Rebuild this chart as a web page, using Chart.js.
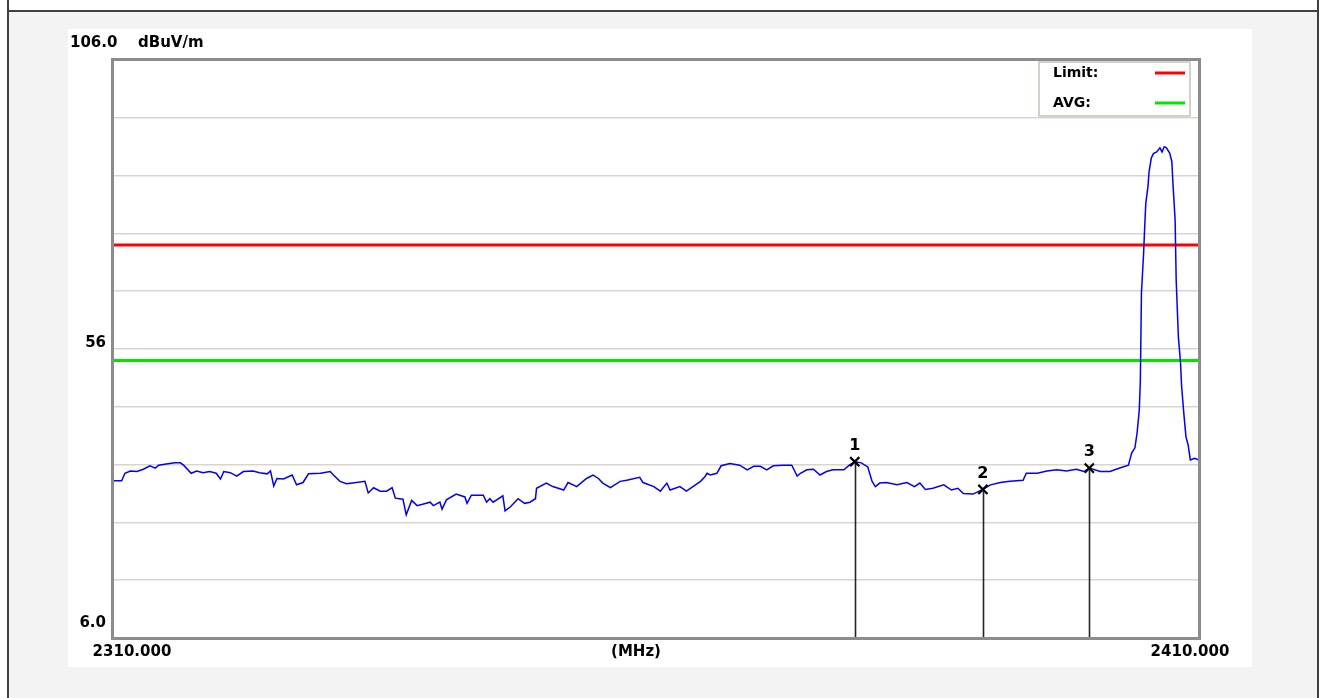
<!DOCTYPE html>
<html><head><meta charset="utf-8">
<script src="https://cdn.jsdelivr.net/npm/chart.js@4.4.1/dist/chart.umd.min.js"></script>
<style>
html,body{margin:0;padding:0;background:#fff;width:1322px;height:698px;overflow:hidden;}
#frame{position:absolute;left:7px;top:0px;width:1308px;height:698px;border-left:2px solid #404040;border-right:2px solid #404040;background:#fff;}
#fill{position:absolute;left:9px;top:10px;width:1308px;height:688px;border-top:2px solid #404040;background:#f3f3f3;}
#panel{position:absolute;left:68px;top:29px;width:1184px;height:638px;background:#fff;}
canvas{position:absolute;left:0;top:0;}
</style></head>
<body>
<div id="frame"></div><div id="fill"></div><div id="panel"></div>
<canvas id="c" width="1322" height="698"></canvas>
<script>
// ---- data ----
const freqMHz = [
2310.0,2310.8,2311.1,2311.6,2312.2,2312.8,2313.4,2313.9,2314.2,2314.9,2315.7,2316.2,2316.5,2317.2,2317.7,2318.3,2318.9,2319.5,2319.9,2320.2,
2320.8,2321.4,2322.0,2322.9,2323.5,2324.2,2324.5,2324.8,2325.1,2325.7,2326.5,2326.9,2327.5,2328.0,2329.1,2330.0,2330.3,2330.9,2331.5,2332.4,
2333.2,2333.5,2334.0,2334.6,2335.2,2335.7,2336.0,2336.7,2337.0,2337.5,2338.0,2338.6,2339.2,2339.5,2340.1,2340.3,2340.7,2341.6,2342.4,2342.6,
2343.0,2344.1,2344.4,2344.7,2345.0,2345.9,2346.1,2346.6,2347.3,2347.9,2348.4,2348.9,2349.0,2349.9,2350.5,2351.5,2351.9,2352.7,2353.6,2354.2,
2354.7,2355.1,2355.8,2356.7,2357.3,2358.5,2358.8,2359.8,2360.4,2361.0,2361.3,2362.2,2362.8,2363.4,2364.1,2364.5,2364.7,2365.0,2365.6,2366.0,
2366.8,2367.7,2368.4,2369.0,2369.6,2370.2,2370.8,2371.7,2372.5,2373.0,2373.3,2373.9,2374.5,2375.1,2375.7,2376.3,2377.3,2377.8,2378.3,2378.9,
2379.5,2379.9,2380.2,2380.6,2381.2,2382.2,2383.1,2383.8,2384.3,2384.8,2385.5,2386.5,2387.2,2387.8,2388.3,2389.2,2390.1,2390.8,2391.7,2392.6,
2393.8,2394.1,2395.1,2396.0,2396.9,2397.8,2398.7,2399.4,2399.9,2400.9,2401.8,2402.7,2403.5,2403.8,2404.1,2404.3,2404.5,2404.6,2404.7,2404.9,
2405.0,2405.1,2405.3,2405.4,2405.6,2405.8,2406.1,2406.4,2406.6,2406.8,2407.0,2407.3,2407.5,2407.6,2407.8,2407.9,2408.1,2408.3,2408.4,2408.6,
2408.8,2409.0,2409.2,2409.6,2410.0
];
const levelDb = [
33.2,33.2,34.5,34.9,34.8,35.2,35.8,35.4,35.9,36.1,36.3,36.3,35.9,34.5,34.9,34.6,34.8,34.5,33.5,34.8,
34.6,34.0,34.8,34.9,34.6,34.4,34.9,32.3,33.6,33.5,34.2,32.5,32.9,34.4,34.5,34.8,34.2,33.1,32.7,32.9,
33.1,31.1,32.0,31.4,31.4,32.0,30.2,30.0,27.3,29.8,28.9,29.2,29.5,28.9,29.5,28.3,29.9,30.9,30.4,29.3,
30.7,30.7,29.5,30.1,29.5,30.6,28.0,28.7,30.1,29.3,29.5,30.1,31.9,32.8,32.2,31.6,32.9,32.2,33.6,34.2,
33.6,32.8,32.0,33.1,33.3,33.8,32.9,32.2,31.4,32.8,31.6,32.2,31.4,32.2,33.1,33.9,34.5,34.2,34.5,35.8,
36.2,35.9,35.1,35.7,35.7,35.1,35.8,35.9,35.9,34.0,34.5,35.1,35.2,34.2,34.8,35.1,35.1,35.9,36.5,36.3,
35.6,33.1,32.2,32.8,32.9,32.5,32.9,32.2,32.8,31.7,31.9,32.5,31.6,31.9,31.0,30.9,31.7,32.5,32.9,33.1,
33.3,34.5,34.5,34.9,35.1,34.9,35.2,34.8,35.4,34.8,34.8,35.4,35.9,38.0,38.9,41.5,45.4,50.6,65.7,72.6,
77.1,81.2,84.1,86.6,89.0,89.8,90.1,90.8,90.1,91.0,90.8,89.9,88.4,84.7,78.3,67.9,58.1,53.6,49.5,44.9,
40.8,39.4,36.8,37.1,36.8
];
const limitLevel = 74;
const avgLevel = 54;
const xMin = 2310, xMax = 2410;
const yMin = 6, yMax = 106, yStep = 10;
const markerFreqs = [2378.3, 2390.1, 2399.9];
const markerLevels = [36.5, 31.7, 35.4];
const markerLabels = ['1', '2', '3'];
const yLabelValues = [106, 56, 6];
const yLabelTexts = ['106.0', '56', '6.0'];
const xLabelTexts = ['2310.000', '(MHz)', '2410.000'];
const yUnit = 'dBuV/m';
const legendNames = ['Limit:', 'AVG:'];
const legendColors = ['#ff0000', '#00e600'];

// ---- chart ----
const FONT = 'bold 15px "DejaVu Sans"';
const LEGEND_FONT = 'bold 14px "DejaVu Sans"';
const MARKER_FONT = 'bold 16px "DejaVu Sans"';
const overlay = {
  id: 'overlay',
  beforeDatasetsDraw(chart) {
    const {ctx, chartArea: a, scales: {x, y}} = chart;
    ctx.save();
    ctx.strokeStyle = '#262626';
    ctx.lineWidth = 1.6;
    markerFreqs.forEach((f, i) => {
      const px = Math.round(x.getPixelForValue(f)) + 0.5;
      ctx.beginPath();
      ctx.moveTo(px, y.getPixelForValue(markerLevels[i]));
      ctx.lineTo(px, a.bottom);
      ctx.stroke();
    });
    ctx.restore();
  },
  afterDatasetsDraw(chart) {
    const {ctx, chartArea: a, scales: {x, y}} = chart;
    ctx.save();
    ctx.fillStyle = '#000';
    ctx.textBaseline = 'middle';
    // marker labels
    ctx.font = MARKER_FONT;
    ctx.textAlign = 'center';
    markerFreqs.forEach((f, i) => {
      ctx.fillText(markerLabels[i], x.getPixelForValue(f), y.getPixelForValue(markerLevels[i]) - 16);
    });
    ctx.font = FONT;
    // y labels
    const yOff = [-17, -6, -15];
    yLabelValues.forEach((v, i) => {
      const py = y.getPixelForValue(v) + yOff[i];
      if (i === 0) { ctx.textAlign = 'left'; ctx.fillText(yLabelTexts[i], a.left - 43, py); }
      else { ctx.textAlign = 'right'; ctx.fillText(yLabelTexts[i], a.left - 7, py); }
    });
    ctx.textAlign = 'left';
    ctx.fillText(yUnit, a.left + 25, y.getPixelForValue(yMax) - 17);
    // x labels
    ctx.textAlign = 'center';
    const by = a.bottom + 14;
    ctx.fillText(xLabelTexts[0], x.getPixelForValue(xMin) + 19, by);
    ctx.fillText(xLabelTexts[1], x.getPixelForValue((xMin + xMax) / 2) - 20, by);
    ctx.fillText(xLabelTexts[2], x.getPixelForValue(xMax) - 9, by);
    // legend
    ctx.font = LEGEND_FONT;
    const lx0 = a.right - 160, ly0 = a.top + 2, lw = 151, lh = 54;
    ctx.fillStyle = '#fff';
    ctx.fillRect(lx0, ly0, lw, lh);
    ctx.strokeStyle = '#d4d0c8';
    ctx.lineWidth = 2;
    ctx.strokeRect(lx0, ly0, lw, lh);
    legendNames.forEach((n, i) => {
      const ty = ly0 + 11 + i * 30;
      ctx.fillStyle = '#000';
      ctx.textAlign = 'left';
      ctx.fillText(n, lx0 + 14, ty);
      ctx.strokeStyle = legendColors[i];
      ctx.lineWidth = 3;
      ctx.beginPath();
      ctx.moveTo(lx0 + 116, ty);
      ctx.lineTo(lx0 + 146, ty);
      ctx.stroke();
    });
    ctx.restore();
  },
  afterDraw(chart) {
    const {ctx, chartArea: a} = chart;
    ctx.save();
    ctx.strokeStyle = '#8c8c8c';
    ctx.lineWidth = 3;
    ctx.strokeRect(a.left - 0.5, a.top - 0.5, a.right - a.left + 1, a.bottom - a.top + 1);
    ctx.restore();
  }
};

const trace = freqMHz.map((f, i) => ({x: f, y: levelDb[i]}));
new Chart(document.getElementById('c'), {
  type: 'line',
  data: {
    datasets: [
      {data: markerFreqs.map((f, i) => ({x: f, y: markerLevels[i]})), showLine: false,
       pointStyle: 'crossRot', pointRadius: 6.5, borderColor: '#000', borderWidth: 2.2, backgroundColor: '#000'},
      {data: trace, borderColor: '#0000ff', borderWidth: 1.5, pointRadius: 0, tension: 0, fill: false},
      {data: [{x: xMin, y: limitLevel}, {x: xMax, y: limitLevel}], borderColor: '#ff0000', borderWidth: 3, pointRadius: 0},
      {data: [{x: xMin, y: avgLevel}, {x: xMax, y: avgLevel}], borderColor: '#00e600', borderWidth: 3, pointRadius: 0}
    ]
  },
  options: {
    responsive: false,
    animation: false,
    devicePixelRatio: 1,
    layout: {padding: {left: 113, top: 60, right: 123, bottom: 60}},
    plugins: {legend: {display: false}, tooltip: {enabled: false}},
    scales: {
      x: {type: 'linear', min: xMin, max: xMax,
          grid: {display: false, drawTicks: false}, border: {display: false}, ticks: {display: false}},
      y: {type: 'linear', min: yMin, max: yMax,
          ticks: {display: false, stepSize: yStep},
          grid: {color: '#d8d5cf', lineWidth: 1.5, drawTicks: false}, border: {display: false}}
    }
  },
  plugins: [overlay]
});
</script>
</body></html>
